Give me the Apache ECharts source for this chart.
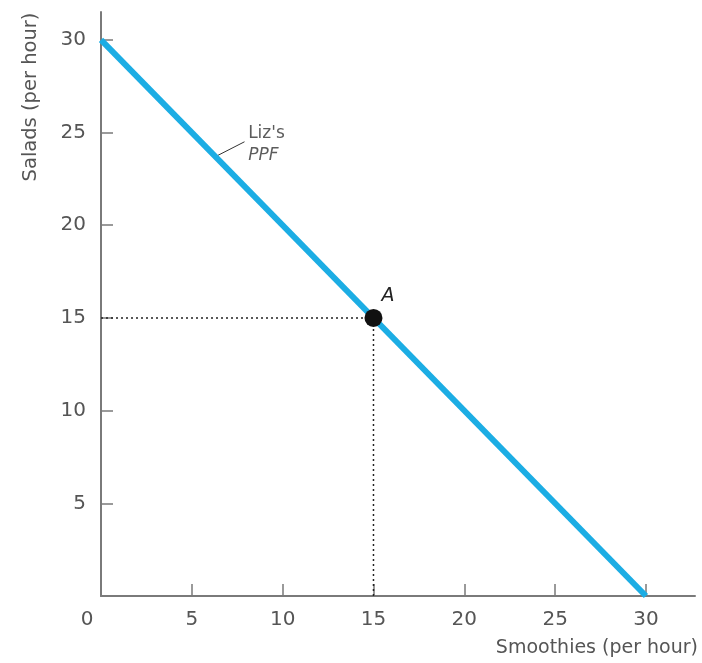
<!DOCTYPE html>
<html>
<head>
<meta charset="utf-8">
<script src="https://cdn.jsdelivr.net/npm/echarts@6/dist/echarts.min.js"></script>
<style>html,body{margin:0;padding:0;background:#fff}#c{width:702px;height:663px}</style>
</head>
<body>
<div id="c"></div>
<script>
// Data
var ppfSmoothies = [0, 30];
var ppfSalads = [30, 0];
var pointA = [15, 15];
var pointLabel = 'A';
var curveLabel = ["Liz's", 'PPF'];
var xTicks = [0, 5, 10, 15, 20, 25, 30];
var yTicks = [0, 5, 10, 15, 20, 25, 30];
var xName = 'Smoothies (per hour)';
var yName = 'Salads (per hour)';
var leader = [[6.3, 23.7], [7.9, 24.5]];
var labelPos = [8.1, 24.35];

var chart = echarts.init(document.getElementById('c'));
var font = 'DejaVu Sans';
var gray = '#555';
var axisCol = '#7a7a7a';
var ppfData = ppfSmoothies.map(function (x, i) { return [x, ppfSalads[i]]; });

function tickFmt(list) {
  return function (v) { return (v === 0 || list.indexOf(v) < 0) ? '' : String(v); };
}

chart.setOption({
  animation: false,
  grid: { left: 101, top: 12, right: 7, bottom: 67 },
  xAxis: {
    type: 'value', min: 0, max: 32.7, interval: 5,
    axisLine: { lineStyle: { color: axisCol, width: 2 } },
    axisTick: { inside: true, length: 12, customValues: xTicks.slice(1), lineStyle: { color: axisCol, width: 1.5 } },
    axisLabel: {
      margin: 14, color: gray, fontFamily: font, fontSize: 20,
      customValues: xTicks.slice(1), formatter: tickFmt(xTicks)
    },
    splitLine: { show: false }
  },
  yAxis: {
    type: 'value', min: 0, max: 31.5, interval: 5,
    axisLine: { lineStyle: { color: axisCol, width: 2 } },
    axisTick: { inside: true, length: 12, customValues: yTicks.slice(1), lineStyle: { color: axisCol, width: 1.5 } },
    axisLabel: {
      margin: 15, color: gray, fontFamily: font, fontSize: 20,
      customValues: yTicks.slice(1), formatter: tickFmt(yTicks)
    },
    splitLine: { show: false }
  },
  graphic: [
    { type: 'text', x: 87, y: 620, style: { text: '0', fill: gray, font: '20px "' + font + '"', textAlign: 'center', textVerticalAlign: 'middle' } },
    { type: 'text', x: 698, y: 648, style: { text: xName, fill: gray, font: '19px "' + font + '"', textAlign: 'right', textVerticalAlign: 'middle' } },
    { type: 'text', x: 31, y: 97, rotation: Math.PI / 2, style: { text: yName, fill: gray, font: '19.5px "' + font + '"', textAlign: 'center', textVerticalAlign: 'middle' } }
  ],
  series: [
    {
      type: 'line', data: ppfData, symbol: 'none',
      lineStyle: { color: '#1cade4', width: 6 }, z: 3
    },
    {
      type: 'line', data: [[0, pointA[1]], pointA], symbol: 'none',
      lineStyle: { color: '#222', width: 1.5, type: [2, 3] }, z: 2
    },
    {
      type: 'line', data: [[pointA[0], 0], pointA], symbol: 'none',
      lineStyle: { color: '#222', width: 1.5, type: [2, 3] }, z: 2
    },
    {
      type: 'line', data: leader, symbol: 'none',
      lineStyle: { color: '#333', width: 1 }, z: 2
    },
    {
      type: 'scatter', data: [pointA], symbol: 'circle', symbolSize: 18,
      itemStyle: { color: '#111', opacity: 1 }, z: 5,
      label: { show: true, position: [17, -22], formatter: pointLabel, fontStyle: 'italic', fontSize: 19, color: '#222', fontFamily: font }
    },
    {
      type: 'scatter', data: [labelPos], symbolSize: 0, z: 5,
      label: {
        show: true, position: 'right', distance: 0,
        formatter: '{a|' + curveLabel[0] + '}\n{b|' + curveLabel[1] + '}',
        rich: {
          a: { fontFamily: font, fontSize: 17, color: '#333', lineHeight: 22 },
          b: { fontFamily: font, fontSize: 17, color: '#333', fontStyle: 'italic', lineHeight: 22 }
        }
      }
    }
  ]
});
</script>
</body>
</html>
